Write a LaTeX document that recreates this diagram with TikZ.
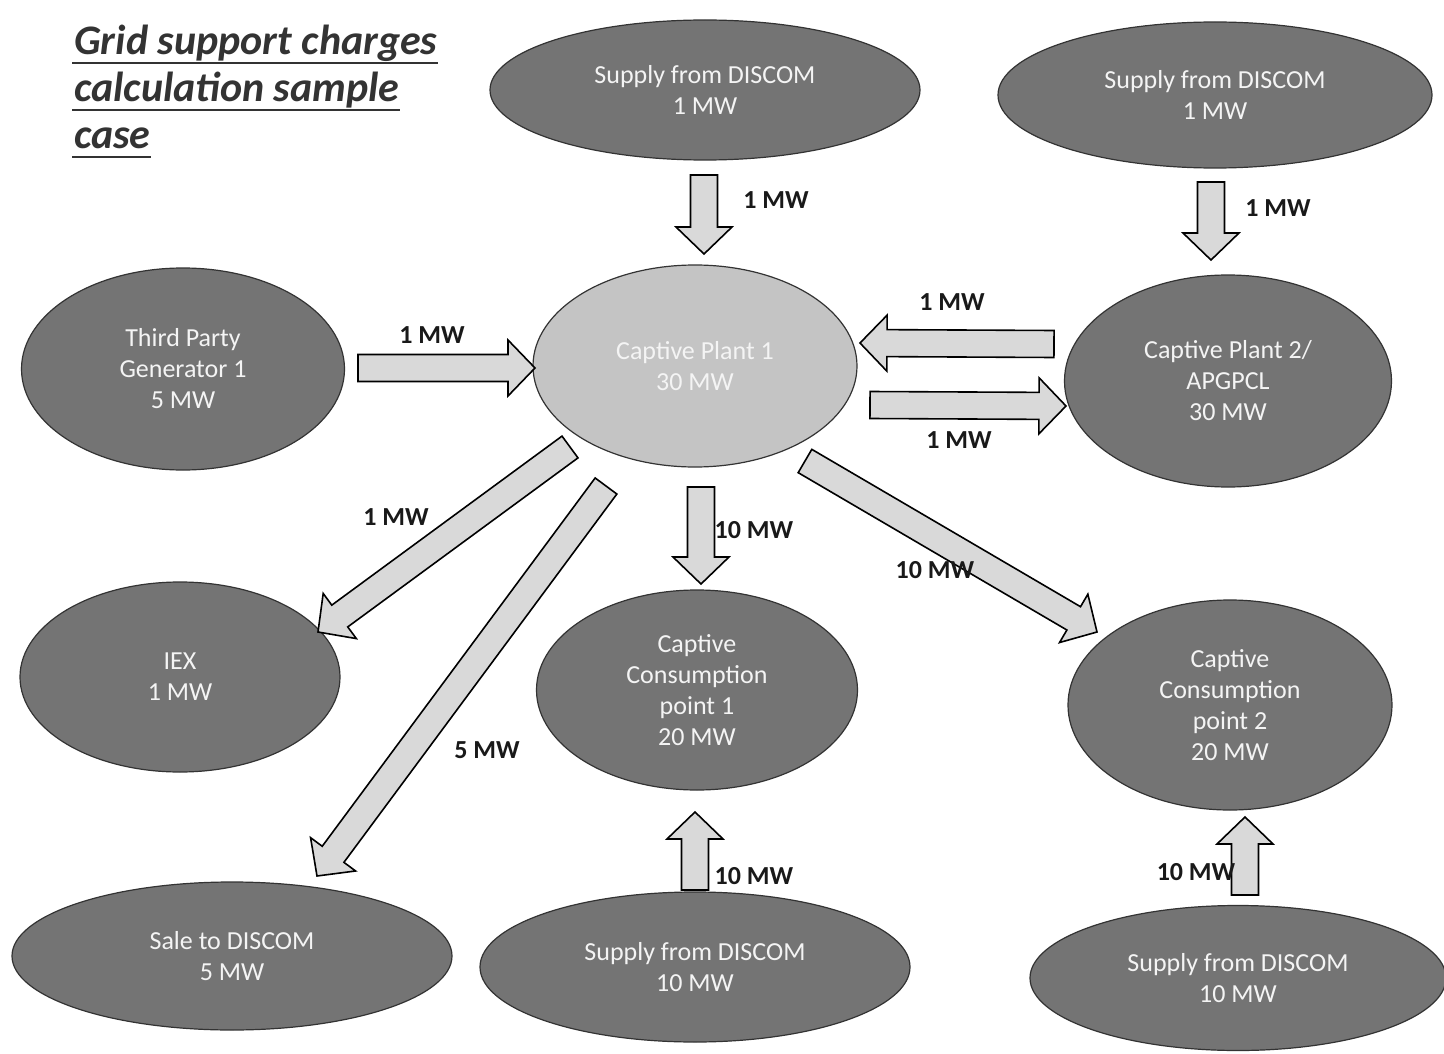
\documentclass[tikz,border=0pt]{standalone}
\usepackage{fontspec}
\setmainfont{Carlito}
\usetikzlibrary{shapes.geometric,calc}
\definecolor{ellfill}{HTML}{747474}
\definecolor{ellcenter}{HTML}{C4C4C4}
\definecolor{arrfill}{HTML}{D9D9D9}
\definecolor{titlecol}{HTML}{333333}
\definecolor{elltext}{HTML}{F4F4F4}
\newcommand{\blockarrow}[2]{%
  \draw[blkarrow] let \p1=($(#2)!27pt!(#1)$) in
    ($(#1)!13.5pt!90:(#2)$) -- ($(\p1)!13.5pt!90:(#2)$) -- ($(\p1)!28pt!90:(#2)$) -- (#2)
    -- ($(\p1)!28pt!-90:(#2)$) -- ($(\p1)!13.5pt!-90:(#2)$) -- ($(#1)!13.5pt!-90:(#2)$) -- cycle;}
\tikzset{
  ell/.style={ellipse, draw=black!80, line width=1.2pt, fill=ellfill, text=elltext, align=center,
    inner sep=0pt, font=\fontsize{26}{31}\selectfont},
  ellc/.style={ell, fill=ellcenter},
  blkarrow/.style={draw=black, line width=1.6pt, fill=arrfill, line join=miter},
  lbl/.style={font=\bfseries\fontsize{26}{30}\selectfont, text=black!90, inner sep=0pt},
  ttl/.style={font=\bfseries\itshape\fontsize{42}{47}\selectfont, text=titlecol, inner sep=0pt, anchor=base west},
  uline/.style={draw=titlecol, line width=2.2pt}
}
\begin{document}
\begin{tikzpicture}[x=1pt,y=-1pt]
\useasboundingbox[fill=white] (0,0) rectangle (1444,1054);

% title
\node[ttl] (t1) at (74,55) {Grid support charges};
\node[ttl] (t2) at (74,102) {calculation sample};
\node[ttl] (t3) at (74,149) {case};
\foreach \t in {t1,t2,t3}
  \draw[uline] ($(\t.base west)+(-2,8)$) -- ($(\t.base east)+(0,8)$);

% ellipses
\node[ell, minimum width=430pt, minimum height=140pt] (d1) at (705,90) {Supply from DISCOM\\1 MW};
\node[ell, minimum width=434pt, minimum height=146pt] (d2) at (1215,95) {Supply from DISCOM\\1 MW};
\node[ell, minimum width=323pt, minimum height=202pt] (tp) at (183,369) {Third Party\\Generator 1\\5 MW};
\node[ellc, minimum width=324pt, minimum height=202pt] (cp1) at (695,366) {Captive Plant 1\\30 MW};
\node[ell, minimum width=327pt, minimum height=212pt] (cp2) at (1228,381) {Captive Plant 2/\\APGPCL\\30 MW};
\node[ell, minimum width=320pt, minimum height=190pt] (iex) at (180,677) {IEX\\1 MW};
\node[ell, minimum width=321pt, minimum height=200pt] (cc1) at (697,690) {Captive\\Consumption\\point 1\\20 MW};
\node[ell, minimum width=324pt, minimum height=210pt] (cc2) at (1230,705) {Captive\\Consumption\\point 2\\20 MW};
\node[ell, minimum width=440pt, minimum height=148pt] (sale) at (232,956) {Sale to DISCOM\\5 MW};
\node[ell, minimum width=430pt, minimum height=150pt] (d3) at (695,967) {Supply from DISCOM\\10 MW};
\node[ell, minimum width=416pt, minimum height=145pt] (d4) at (1238,978) {Supply from DISCOM\\10 MW};

% arrow end points
\coordinate (aS) at (704,175);  \coordinate (aE) at (704,254);
\coordinate (bS) at (1211,182); \coordinate (bE) at (1211,260);
\coordinate (cS) at (358,368);  \coordinate (cE) at (535,368);
\coordinate (dS) at (1054,344); \coordinate (dE) at (860,343);
\coordinate (eS) at (870,405);  \coordinate (eE) at (1066,406);
\coordinate (fS) at (570,447);  \coordinate (fE) at (318,632);
\coordinate (gS) at (606,486);  \coordinate (gE) at (317,876);
\coordinate (hS) at (701,487);  \coordinate (hE) at (701,584);
\coordinate (iS) at (805,461);  \coordinate (iE) at (1097,632);
\coordinate (jS) at (695,890);  \coordinate (jE) at (695,812);
\coordinate (kS) at (1245,895); \coordinate (kE) at (1245,817);

\blockarrow{aS}{aE}
\blockarrow{bS}{bE}
\blockarrow{cS}{cE}
\blockarrow{dS}{dE}
\blockarrow{eS}{eE}
\blockarrow{fS}{fE}
\blockarrow{gS}{gE}
\blockarrow{hS}{hE}
\blockarrow{iS}{iE}
\blockarrow{jS}{jE}
\blockarrow{kS}{kE}

% labels
\node[lbl] (la) at (776,200) {1 MW};
\node[lbl] (lb) at (1278,208) {1 MW};
\node[lbl] (lc) at (432,335) {1 MW};
\node[lbl] (ld) at (952,302) {1 MW};
\node[lbl] (le) at (959,440) {1 MW};
\node[lbl] (lf) at (396,517) {1 MW};
\node[lbl] (lg) at (487,750) {5 MW};
\node[lbl] (lh) at (754,530) {10 MW};
\node[lbl] (li) at (935,570) {10 MW};
\node[lbl] (lj) at (754,876) {10 MW};
\node[lbl] (lk) at (1196,872) {10 MW};
\end{tikzpicture}
\end{document}
